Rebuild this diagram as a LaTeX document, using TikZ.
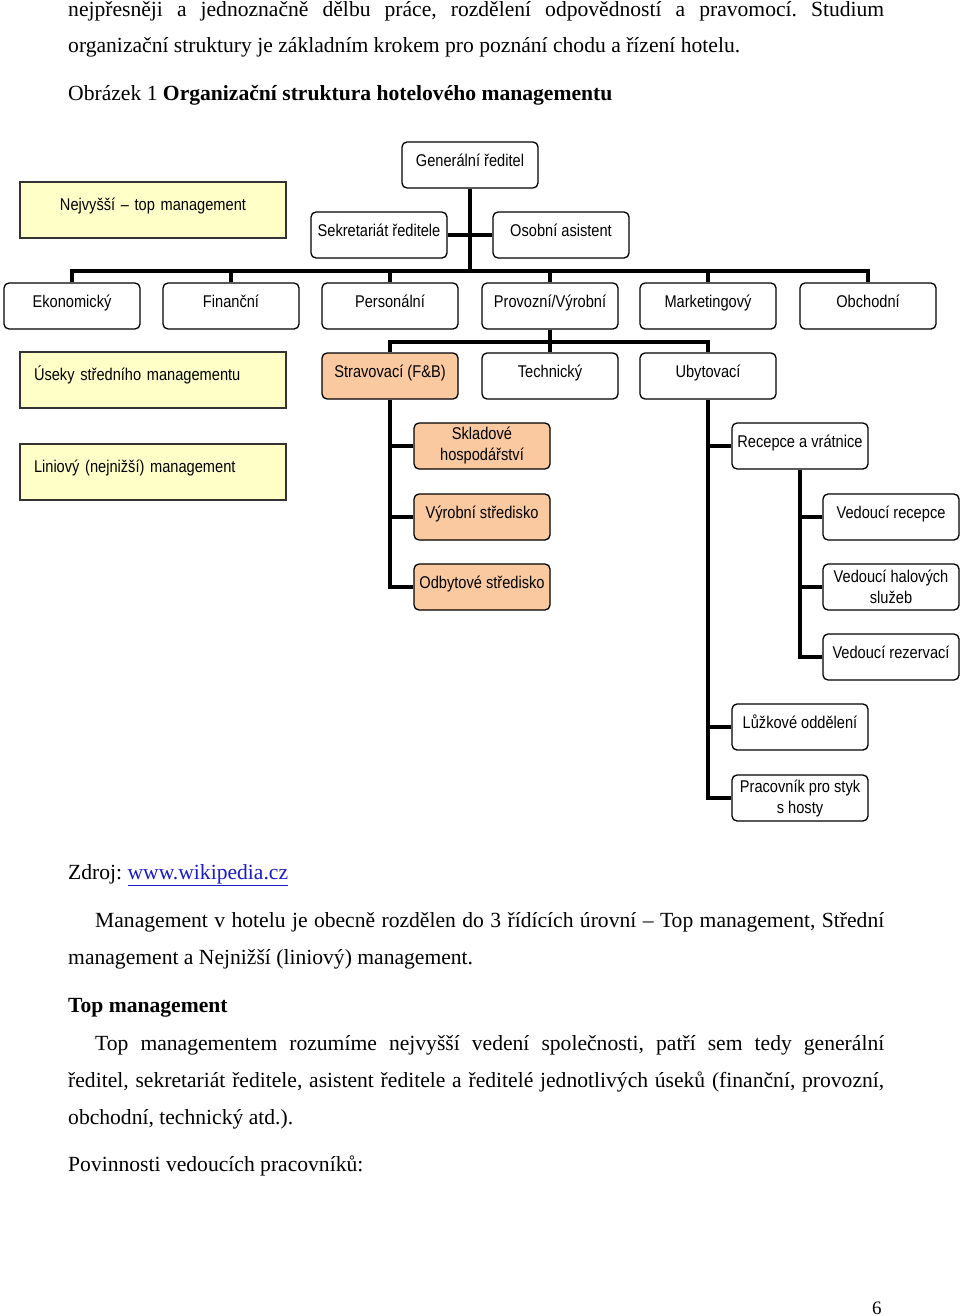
\documentclass[tikz,border=0pt]{standalone}
\usepackage{fontspec}
\setmainfont{Liberation Serif}
\newfontfamily\boxfont[FakeStretch=0.86,Ligatures=TeX]{Liberation Sans}
\usetikzlibrary{positioning}
\frenchspacing

\definecolor{lvlyellow}{HTML}{FFFFC8}
\definecolor{fbpeach}{HTML}{FAC9A0}
\definecolor{linkblue}{HTML}{1A1AC8}

\begin{document}
\begin{tikzpicture}[x=1pt,y=-1pt,
    orgbox/.style={draw,rounded corners=5pt,line width=1.3pt,minimum width=136pt,minimum height=46pt,
        inner sep=0pt,align=center,font=\boxfont\fontsize{17}{21}\selectfont},
    unit/.style={orgbox,text height=14pt,text depth=11pt},
    fbunit/.style={unit,fill=fbpeach},
    level/.style={draw=black!80,line width=1.2pt,fill=lvlyellow,minimum width=266pt,minimum height=56pt,
        inner xsep=14pt,text height=14pt,text depth=13pt,font=\boxfont\fontsize{17}{21}\selectfont},
    link/.style={line width=4.2pt},
    txt/.style={inner sep=0pt,anchor=base west,font=\fontsize{21.6}{26}\selectfont}
]
\useasboundingbox (0,0) rectangle (960,1316);

% === Text above ===
\node[txt] (p1) at (68,17) {\makebox[816pt][s]{nejpřesněji a jednoznačně dělbu práce, rozdělení odpovědností a pravomocí. Studium}};
\node[txt] (p2) at (68,53) {organizační struktury je základním krokem pro poznání chodu a řízení hotelu.};
\node[txt] (cap) at (68,101) {Obrázek 1 \textbf{Organizační struktura hotelového managementu}};

% === Levels (left) ===
\node[level,align=center,text width=238pt] (top) at (153,210) {Nejvyšší – top management};
\node[level,align=left,text width=238pt] (mid) at (153,380) {Úseky středního managementu};
\node[level,align=left,text width=238pt] (low) at (153,472) {Liniový (nejnižší) management};

% === Top management ===
\node[unit] (gr) at (470,165) {Generální ředitel};
\node[unit] (sek) at (379,235) {Sekretariát ředitele};
\node[unit] (osa) at (561,235) {Osobní asistent};

% === Departments ===
\node[unit] (eko) at (72,306) {Ekonomický};
\node[unit] (fin) at (231,306) {Finanční};
\node[unit] (per) at (390,306) {Personální};
\node[unit] (pro) at (550,306) {Provozní/Výrobní};
\node[unit] (mkt) at (708,306) {Marketingový};
\node[unit] (obc) at (868,306) {Obchodní};

% === Middle management ===
\node[fbunit] (str) at (390,376) {Stravovací (F\&B)};
\node[unit] (tec) at (550,376) {Technický};
\node[unit] (uby) at (708,376) {Ubytovací};

% F&B sections
\node[orgbox,fill=fbpeach] (skl) at (482,446) {Skladové\\hospodářství};
\node[fbunit] (vyr) at (482,517) {Výrobní středisko};
\node[fbunit] (odb) at (482,587) {Odbytové středisko};

% Accommodation sections
\node[unit] (rec) at (800,446) {Recepce a vrátnice};
\node[unit] (vre) at (891,517) {Vedoucí recepce};
\node[orgbox] (vhs) at (891,587) {Vedoucí halových\\služeb};
\node[unit] (vrz) at (891,657) {Vedoucí rezervací};
\node[unit] (luz) at (800,727) {Lůžkové oddělení};
\node[orgbox] (pra) at (800,798) {Pracovník pro styk\\s hosty};

% === Connectors ===
\coordinate (bar) at (470,271);
\coordinate (bar2) at (550,342);
\draw[link] (gr) -- (bar);
\draw[link] (sek) -- (osa);
\draw[link] (eko.north) |- (bar) -| (obc.north);
\foreach \n in {fin,per,pro,mkt}
    \draw[link] (\n.north) -- (\n.north |- bar);
\draw[link] (pro.south) -- (bar2);
\draw[link] (str.north) |- (bar2) -| (uby.north);
\draw[link] (tec.north) -- (tec.north |- bar2);
\foreach \n in {skl,vyr,odb}
    \draw[link] (str.south) |- (\n.west);
\foreach \n in {rec,luz,pra}
    \draw[link] (uby.south) |- (\n.west);
\foreach \n in {vre,vhs,vrz}
    \draw[link] (rec.south) |- (\n.west);

% === Text below ===
\node[txt] (src) at (68,879) {Zdroj: \textcolor{linkblue}{\underline{www.wikipedia.cz}}};
\node[txt] (p3) at (95,927) {\makebox[789pt][s]{Management v hotelu je obecně rozdělen do 3 řídících úrovní – Top management, Střední}};
\node[txt] (p4) at (68,964) {management a Nejnižší (liniový) management.};
\node[txt] (head) at (68,1012) {\textbf{Top management}};
\node[txt] (p5) at (95,1050) {\makebox[789pt][s]{Top managementem rozumíme nejvyšší vedení společnosti, patří sem tedy generální}};
\node[txt] (p6) at (68,1087) {\makebox[816pt][s]{ředitel, sekretariát ředitele, asistent ředitele a ředitelé jednotlivých úseků (finanční, provozní,}};
\node[txt] (p7) at (68,1124) {obchodní, technický atd.).};
\node[txt] (p8) at (68,1171) {Povinnosti vedoucích pracovníků:};
\node[txt,font=\fontsize{19}{23}\selectfont] (pg) at (872,1314) {6};

\end{tikzpicture}
\end{document}
